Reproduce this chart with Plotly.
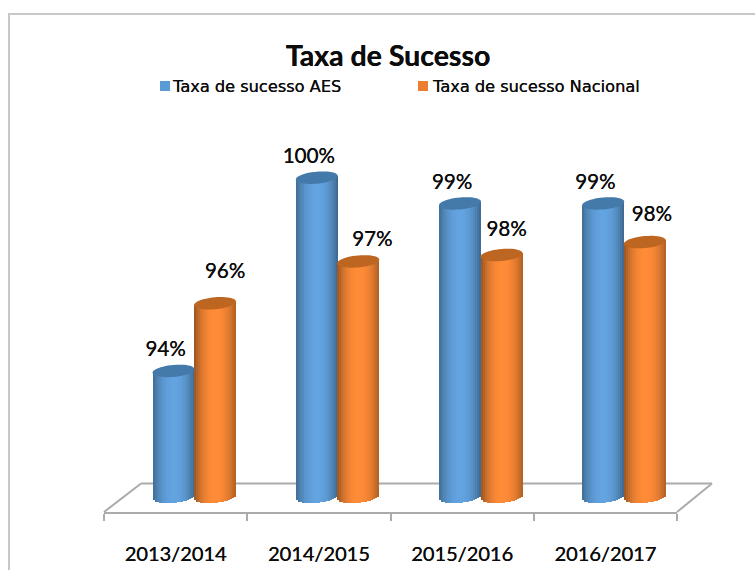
import math
import plotly.graph_objects as go

categories = ["2013/2014", "2014/2015", "2015/2016", "2016/2017"]
aes_values = [94.0, 100.0, 99.2, 99.2]
nacional_values = [96.1, 97.4, 97.6, 98.0]
aes_labels = ["94%", "100%", "99%", "99%"]
nacional_labels = ["96%", "97%", "98%", "98%"]
title_text = "Taxa de Sucesso"
aes_name = "Taxa de sucesso AES"
nacional_name = "Taxa de sucesso Nacional"

W, H = 755, 570
L, R, T, B = 104, 677, 130, 512
YMIN, YMAX = 89.62, 101.48
BASE = 90.09
PX_X = (R - L) / 4
PX_Y = (B - T) / (YMAX - YMIN)
BAR_W = 42 / PX_X
A = BAR_W / 2
E_B = 6 / PX_Y
E_T = 1.8 / PX_Y
STRIPS = 21
GRAY = "#ababab"
FONT = "Lato"
INK = "#0c0c0c"
THICK = "0.2px 0 0 #0c0c0c"


def px2x(p):
    return (p - L) / (R - L)


def px2y(p):
    return (B - p) / (B - T)


def shade(rgb, t, left_dark, right_dark):
    d = left_dark if t < 0 else right_dark
    k = 1 - (1 - d) * abs(t) ** 2.2
    return "rgb(%d,%d,%d)" % tuple(min(255, round(c * k)) for c in rgb)


def cylinder(values, offset, rgb, ld, rd, top):
    xs, ys, bases, widths, colors = [], [], [], [], []
    shapes = []
    for i, v in enumerate(values):
        cx = i + offset
        for s in range(STRIPS):
            t = (s + 0.5) / STRIPS * 2 - 1
            base = BASE - E_B * math.sqrt(1 - t * t) + E_T * t
            xs.append(cx + t * A)
            bases.append(base)
            ys.append(v + E_T * t - base)
            widths.append(2 * A / STRIPS)
            colors.append(shade(rgb, t, ld, rd))
        pts = []
        for k in range(49):
            th = 2 * math.pi * k / 48
            pts.append((cx + A * math.cos(th), v + E_B * math.sin(th) + E_T * math.cos(th)))
        path = "M" + "L".join("%.4f,%.4f" % p for p in pts) + "Z"
        shapes.append(dict(type="path", path=path, xref="x", yref="y", fillcolor=top,
                           line=dict(width=0), layer="above"))
    return go.Bar(x=xs, y=ys, base=bases, width=widths, marker=dict(color=colors, line=dict(width=0)),
                  showlegend=False, hoverinfo="skip"), shapes


blue_off = (173.5 - 175.6) / PX_X
orange_off = (215.0 - 175.6) / PX_X
blue, blue_tops = cylinder(aes_values, blue_off, (98, 163, 224), 0.66, 0.62, "#447aaa")
orange, orange_tops = cylinder(nacional_values, orange_off, (255, 139, 54), 0.60, 0.68, "#bd6622")

fig = go.Figure([blue, orange])

# data labels
lab_aes_x = [i + blue_off - 8 / PX_X for i in range(4)]
lab_aes_y = [v + 20 / PX_Y for v in aes_values]
lab_nac_dx = [10, 14, 5, 7]
lab_nac_dy = [30, 21, 24, 26]
lab_nac_x = [i + orange_off + d / PX_X for i, d in enumerate(lab_nac_dx)]
lab_nac_y = [v + d / PX_Y for v, d in zip(nacional_values, lab_nac_dy)]
fig.add_trace(go.Scatter(x=lab_aes_x + lab_nac_x, y=lab_aes_y + lab_nac_y, mode="text",
                         text=aes_labels + nacional_labels, textposition="middle center",
                         cliponaxis=False,
                         textfont=dict(family=FONT, size=20.5, color=INK, shadow=THICK),
                         showlegend=False, hoverinfo="skip"))

shapes = blue_tops + orange_tops
# floor
floor = [((104, 512), (141, 483.5)), ((141, 483.5), (712, 483.5)), ((712, 483.5), (677, 512))]
for (a, b), (c, d) in floor:
    shapes.append(dict(type="line", xref="paper", yref="paper", x0=px2x(a), y0=px2y(b), x1=px2x(c), y1=px2y(d),
                       line=dict(color=GRAY, width=2), layer="below"))
# outer frame
shapes.append(dict(type="rect", xref="paper", yref="paper", x0=px2x(9), y0=px2y(14), x1=px2x(770), y1=px2y(590),
                   line=dict(color="#c8c8c8", width=2), layer="below"))
# legend swatches
for cx, col in ((165, "#5b9bd5"), (423, "#ed7d31")):
    shapes.append(dict(type="rect", xref="paper", yref="paper", x0=px2x(cx - 5), x1=px2x(cx + 5),
                       y0=px2y(91), y1=px2y(81), fillcolor=col, line=dict(width=0)))

annotations = [
    dict(text=aes_name, x=px2x(170), y=px2y(86), xref="paper", yref="paper", xanchor="left", yanchor="middle",
         showarrow=False, font=dict(family="DejaVu Sans", size=16.2, color=INK, shadow=THICK)),
    dict(text=nacional_name, x=px2x(429.5), y=px2y(86), xref="paper", yref="paper", xanchor="left", yanchor="middle",
         showarrow=False, font=dict(family="DejaVu Sans", size=16.2, color=INK, shadow=THICK)),
]

fig.update_layout(
    width=W, height=H, autosize=False,
    margin=dict(l=L, r=W - R, t=T, b=H - B, pad=0),
    paper_bgcolor="white", plot_bgcolor="rgba(0,0,0,0)",
    barmode="overlay", showlegend=False, bargap=0,
    title=dict(text="<b>" + title_text + "</b>", x=388 / W, xanchor="center", y=1 - 56 / H, yanchor="middle",
               font=dict(family=FONT, size=28.5, color=INK, shadow=THICK)),
    shapes=shapes, annotations=annotations,
    xaxis=dict(range=[-0.5, 3.5], tickmode="array", tickvals=list(range(4)), ticktext=categories,
               automargin=False,
               ticks="outside", ticklen=23, tickcolor="rgba(0,0,0,0)", showgrid=False, zeroline=False,
               showline=True, linecolor=GRAY, linewidth=2,
               tickfont=dict(family=FONT, size=20, color=INK, shadow=THICK),
               minor=dict(tickmode="array", tickvals=[-0.5, 0.5, 1.5, 2.5, 3.5], ticks="outside", ticklen=7,
                          tickcolor=GRAY, tickwidth=2, showgrid=False)),
    yaxis=dict(range=[YMIN, YMAX], visible=False, showgrid=False, zeroline=False, automargin=False),
)
fig.write_html("out.html", post_script="document.body.style.margin='0';",
               config=dict(displayModeBar=False))
